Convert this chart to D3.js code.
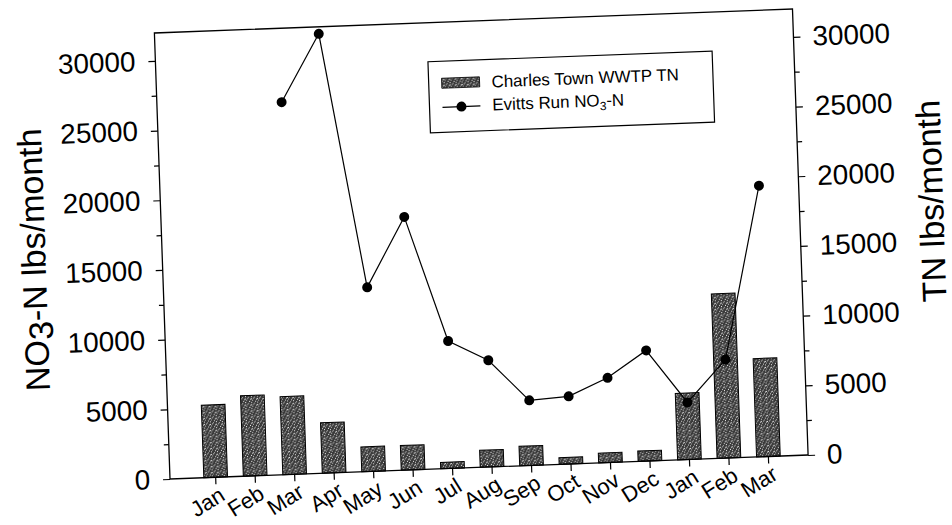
<!DOCTYPE html>
<html>
<head>
<meta charset="utf-8">
<script src="https://cdn.jsdelivr.net/npm/d3@7"></script>
<style>
  html, body { margin: 0; padding: 0; background: #fff; }
  svg { display: block; }
  text { font-family: "Liberation Sans", Arial, sans-serif; fill: #000; }
</style>
</head>
<body>
<svg id="chart" width="952" height="525"></svg>
<script>
// ---- data ----
const months = ["Jan","Feb","Mar","Apr","May","Jun","Jul","Aug","Sep","Oct","Nov","Dec","Jan","Feb","Mar"];
const tnValues = [5200, 5770, 5600, 3620, 1780, 1775, 460, 1220, 1400, 480, 700, 740, 4770, 11800, 7050];
const no3Values = [null, null, 26700, 31500, 13200, 18150, 9140, 7650, 4670, 4850, 6070, 7930, 4090, 7060, 19430];
const majorTicks = [0, 5000, 10000, 15000, 20000, 25000, 30000];
const minorTicks = [2500, 7500, 12500, 17500, 22500, 27500];
const seriesNames = ["Charles Town WWTP TN", "Evitts Run NO"];

const W = 640, H = 446;
const svg = d3.select("#chart");
svg.append("rect").attr("width", 952).attr("height", 525).attr("fill", "#fff");

// stipple pattern for bars (fixed dot layout)
const defs = svg.append("defs");
const pat = defs.append("pattern").attr("id", "stip").attr("patternUnits", "userSpaceOnUse")
  .attr("width", 6).attr("height", 6);
pat.append("rect").attr("width", 6).attr("height", 6).attr("fill", "#3a3a3a");
[[0,0],[3,1],[5,3],[1,4],[4,5],[2,2],[0,2.5]].forEach(([px, py], k) =>
  pat.append("rect").attr("x", px).attr("y", py).attr("width", 1).attr("height", 1)
    .attr("fill", k % 2 ? "#bdbdbd" : "#e6e6e6"));

// the scanned chart is slightly skewed; reproduce with an affine transform
const g = svg.append("g").attr("transform", "matrix(0.997,-0.0375,0.035,1,154.4,33)");

const x = d3.scaleBand().domain(d3.range(months.length)).range([26, 620]).paddingInner(0.4).paddingOuter(0.2);
const yL = d3.scaleLinear().domain([0, 32000]).range([H, 0]);
const yR = d3.scaleLinear().domain([0, 32000]).range([H, 0]);

// bars (TN, right axis)
g.append("g").selectAll("rect").data(tnValues).join("rect")
  .attr("x", (d, i) => x(i))
  .attr("y", d => yR(d))
  .attr("width", x.bandwidth())
  .attr("height", d => H - yR(d))
  .attr("fill", "url(#stip)")
  .attr("stroke", "#000").attr("stroke-width", 1);

// frame
g.append("rect").attr("x", 0).attr("y", 0).attr("width", W).attr("height", H)
  .attr("fill", "none").attr("stroke", "#000").attr("stroke-width", 1.3);

const fmt = d3.format("d");
function styleAxis(sel, size) {
  sel.select(".domain").remove();
  sel.selectAll("line").attr("stroke", "#000").attr("stroke-width", 1.2);
  sel.selectAll("text").attr("font-size", size).attr("font-family", "Liberation Sans, Arial, sans-serif");
}

// left axis
g.append("g").call(d3.axisLeft(yL).tickValues(majorTicks).tickFormat(fmt).tickSize(7).tickPadding(13))
  .call(s => styleAxis(s, 28));
g.append("g").call(d3.axisLeft(yL).tickValues(minorTicks).tickFormat("").tickSize(5))
  .call(s => styleAxis(s, 28));

// right axis
g.append("g").attr("transform", `translate(${W},0)`)
  .call(d3.axisRight(yR).tickValues(majorTicks).tickFormat(fmt).tickSize(7).tickPadding(12))
  .call(s => styleAxis(s, 28));
g.append("g").attr("transform", `translate(${W},0)`)
  .call(d3.axisRight(yR).tickValues(minorTicks).tickFormat("").tickSize(5))
  .call(s => styleAxis(s, 28));

// bottom axis
const xa = g.append("g").attr("transform", `translate(0,${H})`)
  .call(d3.axisBottom(x).tickFormat(i => months[i]).tickSize(7))
  .call(s => styleAxis(s, 22));
xa.selectAll("text")
  .attr("text-anchor", "end")
  .attr("x", 10).attr("y", 22).attr("dy", 0)
  .attr("transform", "rotate(-30,10,22)");

// line (NO3-N, left axis)
const pts = no3Values.map((v, i) => ({ i, v })).filter(d => d.v != null);
const line = d3.line().x(d => x(d.i) + x.bandwidth() / 2).y(d => yL(d.v));
g.append("path").datum(pts).attr("d", line)
  .attr("fill", "none").attr("stroke", "#000").attr("stroke-width", 1.2);
g.append("g").selectAll("circle").data(pts).join("circle")
  .attr("cx", d => x(d.i) + x.bandwidth() / 2)
  .attr("cy", d => yL(d.v))
  .attr("r", 5).attr("fill", "#000");

// legend
const lg = g.append("g");
lg.append("rect").attr("x", 273).attr("y", 39).attr("width", 285).attr("height", 71)
  .attr("fill", "#fff").attr("stroke", "#000").attr("stroke-width", 1.2);
lg.append("rect").attr("x", 286).attr("y", 56).attr("width", 38).attr("height", 10)
  .attr("fill", "url(#stip)").attr("stroke", "#000").attr("stroke-width", 0.8);
lg.append("text").attr("x", 336).attr("y", 67).attr("font-size", 17).text(seriesNames[0]);
lg.append("line").attr("x1", 286).attr("x2", 324).attr("y1", 85).attr("y2", 85)
  .attr("stroke", "#000").attr("stroke-width", 1.2);
lg.append("circle").attr("cx", 305).attr("cy", 85).attr("r", 5).attr("fill", "#000");
const t2 = lg.append("text").attr("x", 336).attr("y", 90).attr("font-size", 17);
t2.append("tspan").text(seriesNames[1]);
t2.append("tspan").attr("font-size", 12).attr("dy", 4).text("3");
t2.append("tspan").attr("dy", -4).text("-N");

// axis titles
const lt = g.append("text").attr("transform", "translate(-117,222) rotate(-90)")
  .attr("text-anchor", "middle").attr("font-size", 34);
lt.append("tspan").text("NO");
lt.append("tspan").attr("dy", 5).text("3");
lt.append("tspan").attr("dy", -5).text("-N lbs/month");

g.append("text").attr("transform", "translate(784,197) rotate(-90)")
  .attr("text-anchor", "middle").attr("font-size", 34).text("TN lbs/month");
</script>
</body>
</html>
